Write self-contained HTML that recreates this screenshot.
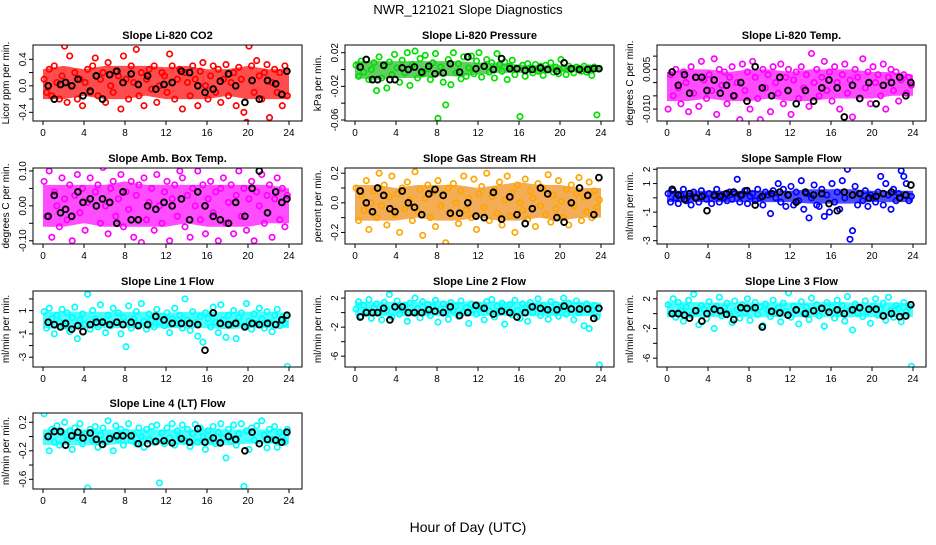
<!DOCTYPE html>
<html><head><meta charset="utf-8"><style>
body{margin:0;background:#fff;}
svg text{font-family:"Liberation Sans",sans-serif;}
</style></head><body>
<svg id="chart" width="936" height="540" viewBox="0 0 936 540" xmlns="http://www.w3.org/2000/svg">
<text x="468" y="14" text-anchor="middle" font-size="13">NWR_121021  Slope Diagnostics</text>
<text x="468" y="532" text-anchor="middle" font-size="14">Hour of Day (UTC)</text>
</svg>
<script>
const hours=[0.1,0.35,0.6,0.85,1.1,1.35,1.6,1.85,2.1,2.35,2.6,2.85,3.1,3.35,3.6,3.85,4.1,4.35,4.6,4.85,5.1,5.35,5.6,5.85,6.1,6.35,6.6,6.85,7.1,7.35,7.6,7.85,8.1,8.35,8.6,8.85,9.1,9.35,9.6,9.85,10.1,10.35,10.6,10.85,11.1,11.35,11.6,11.85,12.1,12.35,12.6,12.85,13.1,13.35,13.6,13.85,14.1,14.35,14.6,14.85,15.1,15.35,15.6,15.85,16.1,16.35,16.6,16.85,17.1,17.35,17.6,17.85,18.1,18.35,18.6,18.85,19.1,19.35,19.6,19.85,20.1,20.35,20.6,20.85,21.1,21.35,21.6,21.85,22.1,22.35,22.6,22.85,23.1,23.35,23.6,23.85];
const blackHours=[0.5,1.1,1.7,2.2,2.8,3.4,3.9,4.6,5.2,5.8,6.5,7.2,7.8,8.6,9.3,10.2,11.0,11.8,12.6,13.5,14.3,15.1,15.8,16.6,17.3,18.1,18.8,19.7,20.4,21.1,21.9,22.7,23.3,23.8];
const bandHours=[0,2,4,6,8,10,12,14,16,18,20,22,24];
const xTicks=[0,4,8,12,16,20,24];

const co2Vals=[0.1,-0.1,0.25,-0.15,0.3,0.05,-0.2,0.15,0.6,-0.25,0.45,0.0,0.2,-0.2,0.1,-0.3,0.05,0.25,-0.1,0.3,0.42,-0.15,0.1,0.2,-0.25,0.35,0.0,-0.1,0.22,0.15,-0.35,0.45,0.1,-0.2,0.3,0.05,0.55,-0.15,0.2,-0.3,0.1,0.25,-0.05,0.3,-0.25,0.0,0.2,0.15,-0.1,0.48,0.3,-0.2,0.1,0.25,-0.35,0.2,0.05,-0.15,0.3,0.1,-0.3,0.22,0.35,0.0,-0.2,0.15,0.3,-0.1,0.25,-0.25,0.1,0.32,-0.15,0.05,0.2,-0.3,0.28,0.1,-0.4,-0.55,0.6,0.3,-0.1,0.38,0.15,-0.2,0.2,0.32,-0.48,0.05,0.25,-0.1,0.2,-0.3,0.3,-0.15];
const co2Black=[0.0,-0.2,0.02,0.05,0.0,0.1,-0.15,-0.08,0.15,-0.2,0.17,0.22,0.05,0.18,0.02,0.15,-0.05,0.02,0.05,0.22,0.2,0.0,-0.1,-0.05,0.07,0.18,0.0,-0.25,0.08,-0.2,0.08,0.03,-0.13,0.22];
const co2High=[0.25,0.3,0.25,0.3,0.3,0.3,0.28,0.3,0.25,0.25,0.3,0.25,0.25];
const co2Low=[-0.2,-0.2,-0.15,-0.2,-0.2,-0.15,-0.2,-0.2,-0.2,-0.15,-0.2,-0.2,-0.2];

const presVals=[0.005,-0.008,0.01,-0.003,0.012,-0.012,0.0,0.008,-0.025,0.015,-0.01,0.004,-0.022,0.009,-0.006,0.018,0.002,-0.015,0.011,-0.004,0.02,-0.019,0.006,0.022,-0.01,0.013,-0.005,0.017,0.001,-0.012,0.008,0.019,-0.058,0.003,-0.015,-0.042,0.012,-0.018,0.02,-0.004,0.007,-0.011,0.015,-0.008,0.002,0.016,-0.005,0.01,0.02,-0.009,0.004,0.012,-0.003,0.008,-0.01,0.019,0.006,-0.002,0.009,-0.012,0.004,0.011,-0.006,0.001,-0.056,0.005,-0.008,0.007,0.002,-0.004,0.006,-0.002,0.004,-0.007,0.005,0.0,0.008,-0.003,0.003,-0.005,0.012,0.002,-0.006,0.004,0.0,-0.004,0.003,0.001,-0.002,0.004,-0.003,0.002,-0.007,0.003,-0.054,0.001];
const presBlack=[0.003,0.012,-0.012,-0.012,0.005,-0.012,-0.012,0.002,0.0,0.003,-0.003,0.004,-0.005,-0.004,0.007,-0.003,0.015,0.001,0.004,0.0,0.013,0.001,0.001,-0.001,0.0,0.002,0.0,-0.002,0.008,0.001,0.0,0.0,0.001,0.001];
const presHigh=[0.01,0.01,0.01,0.01,0.01,0.01,0.008,0.008,0.006,0.005,0.005,0.005,0.004];
const presLow=[-0.01,-0.012,-0.01,-0.01,-0.008,-0.008,-0.006,-0.004,-0.004,-0.004,-0.003,-0.003,-0.003];

const tempVals=[-0.01,0.003,-0.005,0.005,-0.002,-0.008,0.004,0.0,-0.011,0.006,-0.004,0.002,-0.009,0.008,0.001,-0.006,0.003,-0.003,0.009,-0.012,0.005,-0.001,0.004,-0.008,0.002,0.006,-0.005,0.0,-0.014,0.007,-0.003,0.004,-0.01,0.008,0.002,-0.006,-0.014,0.005,-0.002,0.003,-0.011,0.006,0.0,-0.004,0.007,-0.008,0.002,0.005,-0.012,0.001,0.004,-0.006,0.006,-0.002,0.003,-0.009,0.011,0.0,0.005,-0.005,0.002,0.008,-0.003,0.004,-0.007,0.006,0.0,-0.01,0.003,0.007,-0.004,0.001,-0.013,0.005,0.002,-0.006,0.009,-0.002,0.004,-0.008,0.006,0.0,0.003,-0.005,0.007,-0.01,0.002,0.005,-0.003,0.004,-0.007,0.001,0.003,-0.004,0.002,-0.001];
const tempBlack=[0.004,-0.001,0.003,-0.004,0.002,0.002,-0.003,0.001,-0.004,-0.001,-0.005,0.0,-0.007,0.006,-0.002,-0.005,0.002,-0.003,-0.008,-0.003,-0.007,-0.002,0.001,-0.002,-0.013,-0.001,-0.006,0.0,-0.008,-0.001,0.0,0.002,-0.005,0.0];
const tempHigh=[0.004,0.005,0.005,0.004,0.005,0.005,0.004,0.005,0.005,0.005,0.004,0.004,0.003];
const tempLow=[-0.007,-0.007,-0.006,-0.007,-0.007,-0.006,-0.007,-0.007,-0.006,-0.006,-0.006,-0.005,-0.005];

const ambVals=[0.07,-0.03,0.1,-0.09,0.04,0.0,-0.06,0.08,0.02,-0.04,0.06,-0.1,0.03,0.09,-0.02,0.05,-0.07,0.01,0.08,-0.12,0.04,0.06,-0.05,0.11,0.0,-0.08,0.05,0.07,-0.03,0.02,0.09,-0.06,0.04,-0.01,0.07,-0.09,0.03,0.06,-0.105,0.08,-0.04,0.01,0.05,-0.07,0.09,0.0,-0.05,0.04,0.07,-0.1,0.02,0.06,-0.03,0.1,0.08,-0.06,0.03,-0.09,0.05,0.0,0.1,-0.04,0.06,-0.08,0.02,0.07,-0.02,0.04,-0.1,0.05,0.08,-0.05,0.01,0.06,-0.08,0.03,0.1,-0.03,0.05,-0.07,0.02,0.07,-0.1,0.04,0.0,0.09,-0.05,0.03,0.06,-0.09,0.02,0.08,-0.04,0.05,-0.06,0.03];
const ambBlack=[-0.03,0.03,-0.02,-0.01,-0.03,0.04,0.01,0.02,0.0,0.02,0.01,-0.05,0.04,-0.04,-0.04,0.0,-0.01,0.01,0.0,0.02,-0.04,0.04,0.0,-0.03,-0.04,-0.05,0.01,-0.03,0.05,0.1,-0.02,0.04,0.01,0.02];
const ambHigh=[0.06,0.06,0.06,0.06,0.07,0.06,0.06,0.06,0.06,0.06,0.06,0.06,0.05];
const ambLow=[-0.06,-0.06,-0.05,-0.06,-0.06,-0.06,-0.06,-0.05,-0.06,-0.06,-0.06,-0.05,-0.05];

const rhVals=[0.1,-0.12,0.05,-0.05,0.15,-0.18,0.0,0.08,-0.1,0.2,-0.02,0.12,-0.15,0.04,0.18,-0.08,0.06,-0.2,0.1,-0.04,0.14,0.02,-0.12,0.21,-0.06,0.09,-0.22,0.03,0.12,-0.1,0.07,-0.16,0.15,-0.02,0.05,-0.27,0.1,-0.08,0.13,0.0,-0.14,0.08,0.18,-0.05,0.03,-0.1,0.16,-0.18,0.06,0.11,-0.03,0.2,-0.12,0.04,0.09,-0.07,0.14,-0.15,0.02,0.18,-0.09,0.07,-0.2,0.12,0.0,-0.05,0.16,-0.11,0.08,0.03,-0.16,0.13,-0.02,0.1,-0.08,0.19,-0.13,0.05,-0.04,0.15,0.01,-0.1,0.09,-0.15,0.12,-0.02,0.06,0.17,-0.12,0.04,-0.06,0.14,-0.1,0.08,-0.03,0.02];
const rhBlack=[0.08,0.0,-0.06,0.1,0.05,-0.04,-0.06,0.08,0.0,-0.03,-0.08,0.06,0.09,0.05,-0.07,-0.07,0.0,-0.09,-0.1,0.07,-0.11,0.04,-0.08,-0.14,-0.04,0.1,0.06,-0.1,-0.13,0.0,0.1,0.05,-0.08,0.17];
const rhHigh=[0.12,0.12,0.1,0.12,0.12,0.12,0.1,0.12,0.14,0.12,0.12,0.1,0.1];
const rhLow=[-0.12,-0.12,-0.12,-0.1,-0.12,-0.12,-0.1,-0.12,-0.12,-0.1,-0.12,-0.1,-0.1];

const sfVals=[0.3,-0.3,0.5,0.0,-0.4,0.2,0.6,-0.2,0.1,-0.5,0.4,0.0,-0.3,0.5,0.2,-0.1,0.3,-0.4,0.1,0.6,-0.3,0.2,0.0,-0.2,0.4,-0.1,0.3,1.3,-0.3,0.2,0.5,-0.4,0.1,0.3,-0.2,0.6,0.0,-0.5,0.4,0.2,-1.1,0.5,0.0,1.0,-0.3,0.6,-0.6,0.2,0.8,-0.5,0.4,-0.2,1.2,-0.8,0.3,-1.4,0.0,0.9,-0.5,-0.6,0.6,-1.3,0.2,-1.0,1.0,-0.3,0.4,-0.8,1.2,0.0,2.0,-2.9,-2.3,0.8,-0.5,0.3,-0.2,0.5,-0.6,0.2,0.0,-0.3,0.4,1.5,-0.5,1.0,0.2,-0.8,0.6,-0.2,0.3,1.9,1.5,1.0,-0.2,0.1];
const sfBlack=[0.6,0.2,-0.1,0.3,0.0,0.1,-0.9,0.2,0.1,0.3,0.4,0.2,0.5,-0.5,0.1,0.3,0.4,0.2,-0.3,0.4,0.2,0.3,-0.4,-0.9,0.4,0.2,0.3,0.0,0.1,0.3,0.4,0.0,0.2,0.9];
const sfHigh=[0.5,0.5,0.5,0.5,0.5,0.5,0.5,0.6,0.6,0.6,0.5,0.5,0.5];
const sfLow=[-0.3,-0.3,-0.3,-0.3,-0.3,-0.3,-0.3,-0.4,-0.4,-0.4,-0.3,-0.3,-0.3];

const l1Vals=[0.9,-0.5,1.2,0.3,-1.0,0.6,0.0,1.1,-0.3,0.8,-0.8,0.4,1.3,-1.4,0.2,0.7,-0.2,2.4,-0.6,1.0,0.3,-0.4,1.5,0.1,-0.9,0.6,-0.3,1.2,0.0,0.8,-1.0,0.4,-2.1,1.4,-0.5,0.3,0.9,-0.2,1.6,0.1,-0.6,0.7,0.2,-0.4,1.1,0.0,0.5,-0.3,0.8,-0.9,0.3,1.2,-0.1,0.6,-0.5,2.0,0.2,-0.7,0.9,0.0,-1.2,0.5,-1.7,0.8,0.3,-0.4,1.3,0.0,-0.9,1.5,0.2,-1.3,0.6,-0.2,1.0,-1.4,0.4,0.8,-0.3,1.6,0.1,-0.6,0.7,-0.1,1.2,0.3,-0.5,0.9,0.0,-0.8,0.6,1.1,-0.3,0.4,-0.1,-3.8];
const l1Black=[0.0,-0.2,-0.4,-0.1,-0.6,-0.3,-0.8,-0.2,0.0,0.0,-0.2,0.0,-0.2,0.0,-0.3,-0.2,0.5,0.2,-0.1,-0.1,-0.1,-0.2,-2.4,0.8,-0.1,-0.2,-0.1,-0.4,-0.1,-0.2,-0.1,-0.2,0.2,0.6];
const l1High=[0.9,0.9,0.9,0.9,0.9,0.9,0.8,0.9,0.9,0.9,0.9,0.9,0.8];
const l1Low=[-0.5,-0.6,-0.5,-0.5,-0.5,-0.5,-0.5,-0.5,-0.5,-0.6,-0.5,-0.5,-0.5];

const l2Vals=[0.5,1.5,-0.5,1.0,0.2,1.8,-0.8,0.6,1.2,0.0,-1.0,1.4,0.3,2.5,-0.6,0.8,1.6,-0.2,0.4,1.0,-1.2,1.3,0.0,2.0,0.6,-0.7,1.5,0.2,1.1,-0.4,0.8,1.7,-1.3,0.5,1.2,0.0,-0.9,1.4,0.3,0.9,-0.5,1.6,0.1,0.7,-1.5,1.2,0.4,-0.2,1.0,0.6,-1.0,1.5,0.2,1.8,-0.6,0.9,0.0,1.3,-1.6,0.5,1.1,-0.3,1.7,0.3,-0.8,1.2,0.6,-1.2,1.4,0.0,0.8,1.9,-0.4,1.0,0.4,-0.9,1.5,0.2,1.1,-0.5,0.7,2.0,-0.2,1.3,0.5,-1.0,1.6,0.0,0.9,-1.8,1.2,-2.2,0.4,1.0,-0.6,-7.2];
const l2Black=[-0.6,0.0,0.0,0.0,0.6,-1.0,0.8,0.8,0.0,0.0,0.0,0.4,0.2,0.0,0.8,-0.4,0.0,1.0,0.6,-0.2,0.2,0.0,-0.6,0.0,0.8,0.6,0.4,0.4,0.9,0.5,0.5,0.5,-0.8,0.6];
const l2High=[1.5,1.5,1.5,1.5,1.6,1.5,1.5,1.5,1.5,1.5,1.5,1.5,1.4];
const l2Low=[-0.4,-0.5,-0.5,-0.5,-0.5,-0.5,-0.5,-0.4,-0.5,-0.5,-0.5,-0.5,-0.5];

const l3Vals=[1.2,0.0,2.0,-0.5,1.5,0.4,-1.0,0.9,1.8,-0.2,2.6,0.3,-1.5,1.1,0.6,-0.7,1.6,0.2,-2.0,1.0,2.2,-0.3,0.8,1.4,0.0,-1.2,1.7,0.5,-0.6,1.2,0.2,2.0,-0.9,0.7,1.5,-0.1,0.9,-1.6,1.3,0.4,-0.4,1.8,0.1,0.8,-1.1,1.4,0.3,2.8,-0.5,1.0,0.6,-1.4,1.6,0.0,0.9,-0.8,2.1,0.4,1.2,-0.3,0.7,-1.7,1.5,0.2,0.9,-0.6,1.8,0.0,1.1,-1.0,2.3,0.5,-2.2,1.3,0.1,0.8,-0.4,1.7,0.3,-1.3,1.0,2.0,-0.2,0.6,1.4,-0.9,2.2,0.4,-0.5,1.1,0.7,-1.1,1.5,0.3,0.9,-7.1];
const l3Black=[0.0,0.0,-0.2,-0.6,0.4,-1.0,0.0,0.6,0.4,-0.1,-0.8,0.8,0.7,0.8,-1.8,0.3,0.1,-0.2,0.5,0.0,0.4,0.7,0.2,0.5,0.0,0.5,0.8,0.6,0.6,-0.3,0.0,-0.4,-0.3,1.2];
const l3High=[1.5,1.6,1.5,1.5,1.5,1.5,1.5,1.5,1.6,1.5,1.5,1.5,1.4];
const l3Low=[-0.5,-0.5,-0.5,-0.5,-0.5,-0.5,-0.5,-0.5,-0.5,-0.5,-0.5,-0.5,-0.5];

const l4Vals=[0.32,0.0,-0.2,0.1,-0.08,0.15,-0.12,0.05,0.2,-0.05,0.08,-0.18,0.12,-0.02,0.18,-0.1,0.04,-0.72,0.1,-0.06,0.14,-0.15,0.02,0.12,-0.08,0.22,0.0,-0.2,0.15,-0.04,0.1,-0.12,0.06,0.18,-0.06,0.03,-0.1,0.12,0.0,-0.15,0.1,-0.04,0.14,-0.08,0.16,-0.65,0.05,-0.1,0.12,-0.02,0.18,-0.12,0.08,0.0,0.16,-0.06,0.1,-0.14,0.04,0.17,-0.08,0.12,0.0,-0.18,0.08,-0.05,0.14,-0.1,0.06,0.18,-0.02,-0.3,0.1,-0.07,0.16,-0.12,0.04,0.18,-0.7,0.08,-0.18,0.12,-0.05,0.15,-0.1,0.22,0.02,-0.16,0.1,-0.04,0.14,-0.15,0.06,0.0,-0.08,0.1];
const l4Black=[0.0,0.07,0.07,-0.12,0.01,0.06,-0.02,0.05,-0.04,-0.11,-0.03,0.01,0.01,0.01,-0.1,-0.1,-0.07,-0.06,-0.09,-0.03,-0.08,0.11,-0.08,-0.02,-0.09,0.0,-0.04,-0.2,0.06,-0.1,-0.04,-0.05,-0.08,0.06];
const l4High=[0.1,0.1,0.1,0.1,0.1,0.1,0.1,0.1,0.1,0.1,0.1,0.1,0.1];
const l4Low=[-0.12,-0.12,-0.12,-0.12,-0.1,-0.1,-0.1,-0.12,-0.12,-0.12,-0.1,-0.1,-0.1];

const NS='http://www.w3.org/2000/svg';
const svg=document.getElementById('chart');
function mk(tag,attrs,parent){const e=document.createElementNS(NS,tag);for(const k in attrs)e.setAttribute(k,attrs[k]);(parent||svg).appendChild(e);return e;}

const panels=[
 {title:'Slope Li-820 CO2',ylab:'Licor ppm per min.',col:0,row:0,ymax:0.616,ymin:-0.531,ticks:[-0.4,-0.2,0,0.2,0.4],labels:{'-0.4':'-0.4','0':'0.0','0.4':'0.4'},vals:co2Vals,black:co2Black,hi:co2High,lo:co2Low,color:'#ff0000',band:'#ff0000'},
 {title:'Slope Li-820 Pressure',ylab:'kPa per min.',col:1,row:0,ymax:0.0292,ymin:-0.0612,ticks:[-0.06,-0.04,-0.02,0,0.02],labels:{'-0.06':'-0.06','-0.02':'-0.02','0.02':'0.02'},vals:presVals,black:presBlack,hi:presHigh,lo:presLow,color:'#00e000',band:'#1fb81f'},
 {title:'Slope Li-820 Temp.',ylab:'degrees C per min.',col:2,row:0,ymax:0.0142,ymin:-0.0145,ticks:[-0.01,-0.005,0,0.005,0.01],labels:{'-0.01':'-0.010','0.005':'0.005'},vals:tempVals,black:tempBlack,hi:tempHigh,lo:tempLow,color:'#ff00ff',band:'#ff00ff'},
 {title:'Slope Amb. Box Temp.',ylab:'degrees C per min.',col:0,row:1,ymax:0.1085,ymin:-0.1093,ticks:[-0.1,-0.05,0,0.05,0.1],labels:{'-0.1':'-0.10','0':'0.00','0.1':'0.10'},vals:ambVals,black:ambBlack,hi:ambHigh,lo:ambLow,color:'#ff00ff',band:'#ff00ff'},
 {title:'Slope Gas Stream RH',ylab:'percent per min.',col:1,row:1,ymax:0.235,ymin:-0.278,ticks:[-0.2,-0.1,0,0.1,0.2],labels:{'-0.2':'-0.2','0':'0.0','0.2':'0.2'},vals:rhVals,black:rhBlack,hi:rhHigh,lo:rhLow,color:'#ffa500',band:'#f08a10'},
 {title:'Slope Sample Flow',ylab:'ml/min per min.',col:2,row:1,ymax:2.09,ymin:-3.23,ticks:[-3,-2,-1,0,1,2],labels:{'-3':'-3','-1':'-1','1':'1','2':'2'},vals:sfVals,black:sfBlack,hi:sfHigh,lo:sfLow,color:'#0000ff',band:'#0000ff'},
 {title:'Slope Line 1 Flow',ylab:'ml/min per min.',col:0,row:2,ymax:2.68,ymin:-3.84,ticks:[-3,-2,-1,0,1,2],labels:{'-3':'-3','-1':'-1','1':'1'},vals:l1Vals,black:l1Black,hi:l1High,lo:l1Low,color:'#00ffff',band:'#00ffff'},
 {title:'Slope Line 2 Flow',ylab:'ml/min per min.',col:1,row:2,ymax:2.98,ymin:-7.49,ticks:[-6,-4,-2,0,2],labels:{'-6':'-6','-2':'-2','2':'2'},vals:l2Vals,black:l2Black,hi:l2High,lo:l2Low,color:'#00ffff',band:'#00ffff'},
 {title:'Slope Line 3 Flow',ylab:'ml/min per min.',col:2,row:2,ymax:3.05,ymin:-7.19,ticks:[-6,-4,-2,0,2],labels:{'-6':'-6','-2':'-2','2':'2'},vals:l3Vals,black:l3Black,hi:l3High,lo:l3Low,color:'#00ffff',band:'#00ffff'},
 {title:'Slope Line 4 (LT) Flow',ylab:'ml/min per min.',col:0,row:3,ymax:0.33,ymin:-0.736,ticks:[-0.6,-0.4,-0.2,0,0.2],labels:{'-0.6':'-0.6','-0.2':'-0.2','0.2':'0.2'},vals:l4Vals,black:l4Black,hi:l4High,lo:l4Low,color:'#00ffff',band:'#00ffff'}
];
const colLeft=[33,345,657], rowTop=[45,168,291,413], W=269, H=76;
const xMin=-0.98, xMax=25.27;

panels.forEach((p,pi)=>{
  const L=colLeft[p.col], T=rowTop[p.row];
  const xs=v=>L+(v-xMin)/(xMax-xMin)*W;
  const ys=v=>T+(p.ymax-v)/(p.ymax-p.ymin)*H;
  const g=mk('g',{});
  
  
  const clip=mk('clipPath',{id:'c'+pi},g);
  mk('rect',{x:L,y:T,width:W,height:H},clip);
  const t=mk('text',{x:L+W/2,y:T-6,'text-anchor':'middle','font-size':'11','font-weight':'bold'},g);
  t.textContent=p.title;
  
  
  const yl=mk('text',{x:0,y:0,'text-anchor':'middle','font-size':'10',transform:`translate(${L-24},${T+H/2}) rotate(-90)`},g);
  yl.textContent=p.ylab;
  
  
  const pg=mk('g',{'clip-path':`url(#c${pi})`},g);
  let d='';
  bandHours.forEach((h,i)=>{d+=(i?'L':'M')+xs(h).toFixed(1)+','+ys(p.hi[i]).toFixed(1);});
  for(let i=bandHours.length-1;i>=0;i--){d+='L'+xs(bandHours[i]).toFixed(1)+','+ys(p.lo[i]).toFixed(1);}
  const band=mk('path',{d:d+'Z',fill:p.band,opacity:'0.7'},pg);
  
  
  p.vals.forEach((v,i)=>{
    const c=mk('circle',{cx:xs(hours[i]).toFixed(1),cy:ys(v).toFixed(1),r:2.7,fill:'none',stroke:p.color,'stroke-width':1.7},pg);
    
    
  });
  p.black.forEach((v,i)=>{
    const c=mk('circle',{cx:xs(blackHours[i]).toFixed(1),cy:ys(v).toFixed(1),r:2.9,fill:'none',stroke:'#000','stroke-width':1.9},pg);
    
    
  });
  const box=mk('rect',{x:L,y:T,width:W,height:H,fill:'none',stroke:'#000','stroke-width':1},g);
  
  
  xTicks.forEach(v=>{
    const x=xs(v);
    mk('line',{x1:x,x2:x,y1:T+H,y2:T+H+4,stroke:'#000'},g);
    const tl=mk('text',{x:x,y:T+H+15,'text-anchor':'middle','font-size':'10'},g);
    tl.textContent=v;
    
    
  });
  p.ticks.forEach(v=>{
    const y=ys(v);
    mk('line',{x1:L-4,x2:L,y1:y,y2:y,stroke:'#000'},g);
    const lab=p.labels[String(v)];
    if(lab){
      const tl=mk('text',{x:0,y:0,'text-anchor':'middle','font-size':'10',transform:`translate(${L-7},${y}) rotate(-90)`},g);
      tl.textContent=lab;
      
      
    }
  });
});
</script>
</body></html>
